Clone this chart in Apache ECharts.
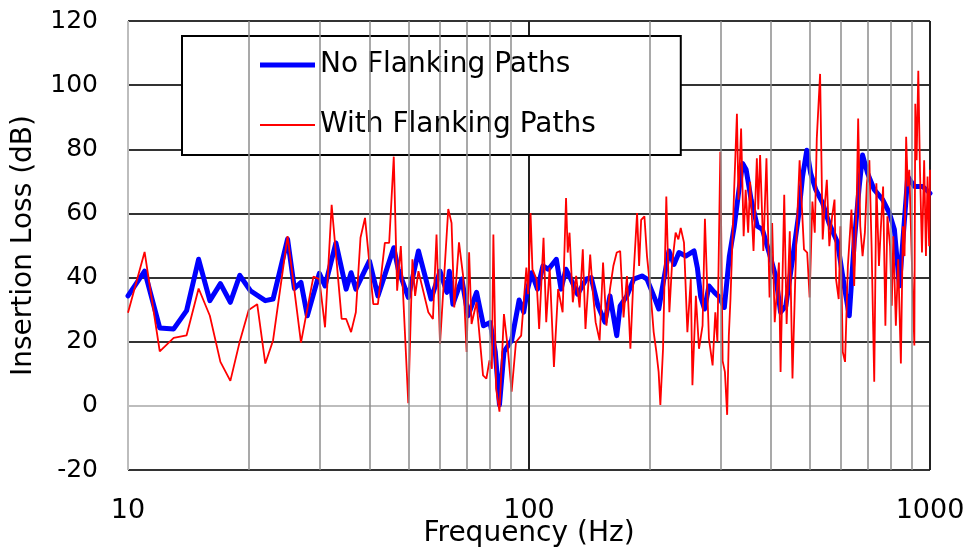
<!DOCTYPE html>
<html>
<head>
<meta charset="utf-8">
<script src="https://cdn.jsdelivr.net/npm/echarts@6/dist/echarts.min.js"></script>
<style>
  html, body { margin: 0; padding: 0; background: #fff; }
  #chart { width: 971px; height: 554px; }
</style>
</head>
<body>
<div id="chart"></div>
<script>
// Insertion loss spectra, measured without and with flanking transmission paths
const freqNoFlank = [
  10, 11, 12, 13, 14, 15, 16, 17, 18, 19, 20.2, 22, 23, 25, 26, 27, 28, 30, 31, 33,
  35, 36, 37, 40, 42, 46, 47.2, 50, 53, 57, 60, 62.4, 63.3, 64.6, 68, 70.5, 74, 77, 80, 82.4,
  84.4, 86.6, 90.5, 94.5, 97, 99, 101.5, 105, 108.3, 111.8, 117, 120.2, 123.6, 127.2, 132.2, 138.8, 142.9, 148.6, 154.6, 159.2,
  165.5, 168.8, 175.5, 182.4, 191.3, 196.9, 204.7, 210.7, 216.9, 223.3, 229.9, 236.6, 245.9, 258, 263, 268, 274, 281, 290, 298,
  307, 316, 325, 333, 341, 348, 358, 371, 382, 397, 412, 424, 437, 454, 471, 481, 493, 504, 519, 540,
  560, 588, 611, 629, 647, 666, 679, 699, 726, 762, 792, 815, 839, 855, 880, 914, 959, 1000
];
const lossNoFlank = [
  34.3, 42, 24.3, 24, 29.7, 45.7, 32.8, 38.1, 32.3, 40.7, 35.9, 32.8, 33.3, 52, 36.6, 38.5, 28.1, 41.3, 37.4, 50.8,
  36.4, 41.5, 36.4, 45.2, 34.3, 49.3, 42.6, 33.8, 48.3, 33.3, 42, 35.4, 42, 31.7, 39.5, 28.1, 35.4, 25, 26, 16.8,
  0.3, 16.8, 20.4, 33, 29.2, 36, 41.5, 36.4, 43.6, 42.6, 45.7, 36.4, 42.6, 39.5, 34.8, 39.5, 40, 31.2, 26.1, 34.3,
  21.9, 31.2, 34.3, 39.5, 40.5, 39.5, 34.3, 30.2, 39.5, 48.3, 44.1, 47.8, 46.7, 48.3, 43, 34, 30.2, 37.4, 35.4, 34,
  30.7, 46.7, 56, 66.3, 75.6, 73.6, 64.3, 56, 55, 47.8, 40.5, 29.2, 31.2, 45.7, 60.1, 71.5, 79.7, 72.5, 67.4, 63.2,
  57, 50.9, 37.4, 28.1, 50.9, 68.4, 78.2, 72.5, 67.4, 64.3, 60.1, 55, 37.4, 50.9, 71.5, 68.4, 68.4, 66.3
];

const freqWithFlank = [
  10, 11, 12, 13, 14, 15, 16, 17, 18, 19, 20, 21, 22, 23, 25, 27, 29, 30, 31, 32.2,
  34.1, 35, 36, 37, 38, 39, 40.9, 42, 43.7, 44.8, 46, 46.9, 47.9, 50, 51.2, 52, 53, 56.1, 57.6, 58.8,
  60, 62.9, 64.1, 65.1, 66.9, 68.5, 69.9, 70.9, 71.9, 74, 76.8, 78.3, 79.7, 80.8, 81.5, 82.8, 84.4, 86.6, 88.4, 90.5,
  92.8, 95.6, 98.5, 99.5, 100.9, 102, 104.4, 106, 108.7, 110.4, 112.6, 115.4, 118.2, 121.3, 123.7, 124.9, 126.2, 128.6, 131.1, 133.7,
  136.2, 138.3, 142.1, 144.3, 146.6, 150, 153, 156, 159.2, 162.3, 165.5, 168.8, 172.1, 175.5, 177.3, 179, 182.4, 186, 188.2, 190.4,
  194, 196.9, 200.7, 204.6, 207.8, 210.5, 212.6, 215.9, 220, 223.9, 227.2, 232.1, 235.8, 239, 243.5, 248.3, 253.2, 255.6, 260.7, 265.4,
  270.9, 274.6, 281, 287, 291.5, 295, 300, 304, 308, 312, 315, 318, 325, 330, 333, 338, 343, 347, 352, 356,
  363, 370, 373, 377, 384, 391, 398, 404, 410, 420, 424, 433, 439, 447, 454, 464, 473, 485, 494, 501,
  509, 516, 522, 532, 540, 547, 553, 561, 570, 578, 583, 592, 598, 606, 614, 624, 637, 647, 657, 662,
  670, 679, 688, 696, 706, 715, 726, 735, 746, 753, 764, 774, 783, 795, 803, 810, 822, 833, 846, 856,
  864, 872, 880, 888, 900, 914, 919, 926, 935, 944, 955, 967, 977, 986, 995, 1000
];
const lossWithFlank = [
  29, 48, 17, 21.2, 22, 36.6, 28.1, 13.7, 7.8, 20.1, 29.9, 31.7, 13.2, 20.4, 52.9, 19.7, 40.3, 39.5, 24.5, 62.7,
  27.1, 27.1, 23, 29.2, 52.4, 58.6, 31.7, 31.7, 50.8, 50.8, 77.7, 35.9, 49.8, 0.8, 45.7, 34.3, 42, 29.2, 27.1, 53.4,
  19.4, 61.4, 57, 30.7, 51, 40.5, 16.8, 47.9, 25.5, 32.3, 9.5, 8.5, 14.2, 11.6, 53.4, 5.4, -1.8, 28.6, 18.8, 4.4,
  19.9, 21.9, 43.1, 34.8, 60.1, 42.6, 39.5, 24, 52.4, 26.1, 43.1, 12.1, 36.4, 29.2, 64.8, 47.8, 54, 32.3, 40.5, 30.7,
  48.8, 24, 47.2, 35.4, 26.1, 20.4, 44.7, 25, 36.4, 43.6, 47.8, 48.3, 27.6, 40.5, 29.2, 17.8, 41.5, 60.1, 43.6, 58,
  59.1, 46.7, 36.4, 23, 16.8, 10.6, 0.3, 17.8, 65.3, 29.2, 43.6, 54, 51.9, 55.5, 50.9, 23, 39.5, 6.4, 34.3, 17.8,
  25, 58.3, 21, 12.6, 29.2, 19.9, 79.2, 14, 10.6, -2.8, 21.9, 33.3, 68.4, 91.1, 64.3, 86.5, 52.9, 67.4, 54, 69.9,
  48.3, 77.2, 61.2, 78.2, 48.3, 77.2, 33.8, 57, 26.1, 44.7, 10.6, 65.8, 25.5, 54.4, 8.5, 50.9, 76.6, 48.8, 47.8, 33.8,
  63.7, 54, 83.4, 103.5, 51.9, 63.2, 70.5, 49.8, 59.1, 64.3, 39.5, 33.3, 56, 16.8, 13.7, 43.6, 61.2, 37.4, 66.3, 89.6,
  56, 46.7, 54, 69.4, 76.6, 49.8, 7.5, 69.4, 43.6, 54, 68.4, 25, 59.1, 49.8, 31.2, 52.9, 25, 45.7, 13.2, 56,
  46.7, 83.9, 68.4, 73.6, 47.2, 18.8, 94.2, 76.6, 104.5, 73.6, 47.8, 76.6, 46.7, 71.5, 49.8, 73.6
];

// Frequencies of the light vertical grid lines inside each decade
const minorGridFreqs = [20, 30, 40, 50, 60, 70, 80, 90, 200, 300, 400, 500, 600, 700, 800, 900];
const yTicks = [-20, 0, 20, 40, 60, 80, 100, 120];

const seriesNames = ['No Flanking Paths', 'With Flanking Paths'];

const zip = (xs, ys) => xs.map((x, i) => [x, ys[i]]);
const FONT = 'DejaVu Sans';

const chart = echarts.init(document.getElementById('chart'), null, { renderer: 'canvas' });

chart.setOption({
  animation: false,
  backgroundColor: '#ffffff',
  grid: { left: 128, right: 41, top: 21, bottom: 84, containLabel: false, outerBoundsMode: 'none' },
  legend: {
    data: [
      { name: seriesNames[0], icon: 'path://M0,0H55V5H0Z' },
      { name: seriesNames[1], icon: 'path://M0,0H55V1.8H0Z' }
    ],
    orient: 'vertical',
    left: 182,
    top: 36,
    padding: [15, 85, 16, 78],
    itemGap: 32,
    itemWidth: 55,
    itemHeight: 28,
    symbolKeepAspect: true,
    backgroundColor: '#ffffff',
    borderColor: '#000000',
    borderWidth: 2,
    borderRadius: 0,
    textStyle: { fontFamily: FONT, fontSize: 28, color: '#000' }
  },
  xAxis: {
    type: 'log',
    logBase: 10,
    min: 10,
    max: 1000,
    name: 'Frequency (Hz)',
    nameLocation: 'middle',
    nameGap: 50,
    nameMoveOverlap: false,
    nameTextStyle: { fontFamily: FONT, fontSize: 28, color: '#000' },
    axisLine: { show: false },
    axisTick: { show: false },
    axisLabel: {
      fontFamily: FONT, fontSize: 27, color: '#000', margin: 27,
      formatter: v => String(Math.round(v))
    },
    splitLine: {
      show: true,
      lineStyle: { color: ['#bdbdbd', '#222222', '#222222'], width: 2 }
    }
  },
  yAxis: {
    type: 'value',
    min: yTicks[0],
    max: yTicks[yTicks.length - 1],
    interval: 20,
    name: 'Insertion Loss (dB)',
    nameLocation: 'middle',
    nameGap: 90,
    nameMoveOverlap: false,
    nameTextStyle: { fontFamily: FONT, fontSize: 28, color: '#000' },
    axisLine: { show: false },
    axisTick: { show: false },
    axisLabel: { fontFamily: FONT, fontSize: 25, color: '#000', margin: 30 },
    splitLine: {
      show: true,
      lineStyle: {
        color: ['#333333', '#bdbdbd', '#333333', '#333333', '#333333', '#333333', '#333333', '#333333'],
        width: 2
      }
    }
  },
  series: [
    {
      name: 'grid',
      type: 'line',
      data: [],
      silent: true,
      z: 1,
      markLine: {
        silent: true,
        symbol: ['none', 'none'],
        label: { show: false },
        lineStyle: { color: '#8c8c8c', width: 1.5, type: 'solid' },
        data: minorGridFreqs.map(f => ({ xAxis: f }))
      }
    },
    {
      name: seriesNames[0],
      type: 'line',
      data: zip(freqNoFlank, lossNoFlank),
      showSymbol: false,
      symbol: 'none',
      z: 3,
      lineStyle: { color: '#0000ff', width: 5, join: 'round', cap: 'round' },
      itemStyle: { color: '#0000ff' }
    },
    {
      name: seriesNames[1],
      type: 'line',
      data: zip(freqWithFlank, lossWithFlank),
      showSymbol: false,
      symbol: 'none',
      z: 4,
      lineStyle: { color: '#ff0000', width: 1.8 },
      itemStyle: { color: '#ff0000' }
    }
  ]
});
</script>
</body>
</html>
